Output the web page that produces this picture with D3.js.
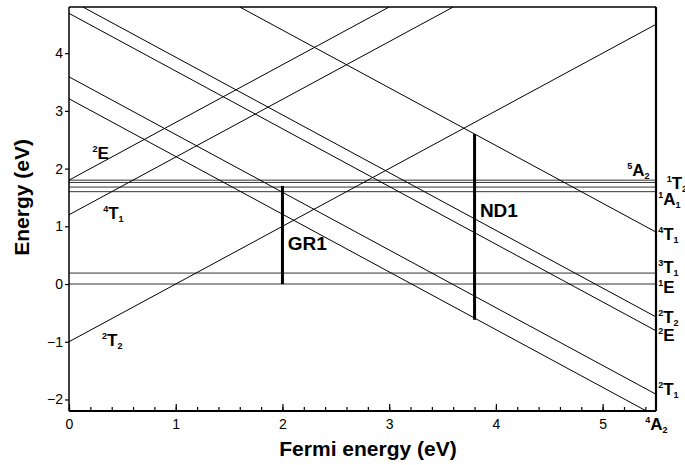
<!DOCTYPE html>
<html>
<head>
<meta charset="utf-8">
<script src="https://cdn.jsdelivr.net/npm/d3@7"></script>
<style>
  body{margin:0;background:#fff;}
  text{font-family:"Liberation Sans",Arial,Helvetica,sans-serif;}
</style>
</head>
<body>
<div class="chart"></div>
<script>
// axis ranges and ticks
var xDomain=[0,5.5];
var yDomain=[-2.2,4.8];
var xTicks=[0,1,2,3,4,5];
var xMinorStep=0.2;
var yTicks=[-2,-1,0,1,2,3,4];

// flat levels (eV)
var levels=[1.80,1.76,1.68,1.60,0.19,0.0];

// sloped lines: [x0,y0,x1,y1]
var risingLines=[
  [0,-1.0,5.5,4.5],
  [0,1.2,3.6,4.8],
  [0,1.8,3.0,4.8]
];
var fallingLines=[
  [0.13,4.8,5.5,-0.57],
  [0,4.69,5.5,-0.81],
  [0,3.59,5.5,-1.91],
  [0,3.21,5.41,-2.2],
  [1.6,4.8,5.5,0.90]
];

// optical transitions
var transitions=[
  {name:"GR1",x:2.0,from:0.0,to:1.70,lx:2.05,ly:0.59},
  {name:"ND1",x:3.8,from:-0.62,to:2.60,lx:3.85,ly:1.16}
];

// state labels: superscript, letter, subscript, start x, baseline y
var stateLabels=[
  {sup:"2",main:"E",sub:"",x:0.22,y:2.17},
  {sup:"4",main:"T",sub:"1",x:0.32,y:1.13},
  {sup:"2",main:"T",sub:"2",x:0.31,y:-1.08},
  {sup:"5",main:"A",sub:"2",x:5.23,y:1.87},
  {sup:"1",main:"T",sub:"2",x:5.60,y:1.65},
  {sup:"1",main:"A",sub:"1",x:5.52,y:1.37},
  {sup:"4",main:"T",sub:"1",x:5.52,y:0.76},
  {sup:"3",main:"T",sub:"1",x:5.52,y:0.19},
  {sup:"1",main:"E",sub:"",x:5.52,y:-0.16},
  {sup:"2",main:"T",sub:"2",x:5.52,y:-0.68},
  {sup:"2",main:"E",sub:"",x:5.52,y:-0.99},
  {sup:"2",main:"T",sub:"1",x:5.52,y:-1.92},
  {sup:"4",main:"A",sub:"2",x:5.40,y:-2.53}
];

var W=685, H=465;
var margin={top:7,left:69,right:29,bottom:54};
var width=W-margin.left-margin.right;
var height=H-margin.top-margin.bottom;

var xScale=d3.scaleLinear().domain(xDomain).range([0,width]);
var yScale=d3.scaleLinear().domain(yDomain).range([height,0]);

var svg=d3.select(".chart").append("svg")
  .attr("width",W).attr("height",H);

var g=svg.append("g")
  .attr("transform","translate("+margin.left+","+margin.top+")");

g.append("clipPath").attr("id","plotclip")
  .append("rect").attr("width",width).attr("height",height);

var plot=g.append("g").attr("clip-path","url(#plotclip)");

// flat levels
plot.selectAll("line.level")
  .data(levels)
  .enter().append("line")
  .attr("class","level")
  .attr("x1",xScale(xDomain[0]))
  .attr("x2",xScale(xDomain[1]))
  .attr("y1",function(d){return yScale(d)})
  .attr("y2",function(d){return yScale(d)})
  .attr("stroke","#333")
  .attr("stroke-width",1);

// sloped lines
plot.selectAll("line.sloped")
  .data(risingLines.concat(fallingLines))
  .enter().append("line")
  .attr("class","sloped")
  .attr("x1",function(d){return xScale(d[0])})
  .attr("y1",function(d){return yScale(d[1])})
  .attr("x2",function(d){return xScale(d[2])})
  .attr("y2",function(d){return yScale(d[3])})
  .attr("stroke","#000")
  .attr("stroke-width",1);

// transitions
g.selectAll("line.trans")
  .data(transitions)
  .enter().append("line")
  .attr("class","trans")
  .attr("x1",function(d){return xScale(d.x)})
  .attr("x2",function(d){return xScale(d.x)})
  .attr("y1",function(d){return yScale(d.from)})
  .attr("y2",function(d){return yScale(d.to)})
  .attr("stroke","#000")
  .attr("stroke-width",3);

g.selectAll("text.trans")
  .data(transitions)
  .enter().append("text")
  .attr("class","trans")
  .attr("x",function(d){return xScale(d.lx)})
  .attr("y",function(d){return yScale(d.ly)})
  .attr("font-size",19)
  .attr("font-weight","bold")
  .text(function(d){return d.name});

// state labels
var lab=g.selectAll("text.state")
  .data(stateLabels)
  .enter().append("text")
  .attr("class","state")
  .attr("x",function(d){return xScale(d.x)})
  .attr("y",function(d){return yScale(d.y)})
  .attr("font-weight","bold");
lab.append("tspan").attr("font-size",9).attr("dy",-7).text(function(d){return d.sup});
lab.append("tspan").attr("font-size",17).attr("dy",7).text(function(d){return d.main});
lab.append("tspan").attr("font-size",9).attr("dy",3).text(function(d){return d.sub});

// axes
var xMinor=d3.range(xDomain[0],xDomain[1]+0.001,xMinorStep);
g.append("g")
  .attr("class","x minor")
  .attr("transform","translate(0,"+height+")")
  .call(d3.axisTop(xScale).tickValues(xMinor).tickSize(4).tickFormat(""))
  .call(function(s){s.select(".domain").remove()});

var xAxis=g.append("g")
  .attr("class","x axis")
  .attr("transform","translate(0,"+height+")")
  .call(d3.axisBottom(xScale).tickValues(xTicks).tickSize(0).tickPadding(8).tickFormat(d3.format("d")));
xAxis.select(".domain").remove();
xAxis.selectAll("text").attr("font-size",14).attr("fill","#000");

g.append("g")
  .attr("class","x major")
  .attr("transform","translate(0,"+height+")")
  .call(d3.axisTop(xScale).tickValues(xTicks).tickSize(7).tickFormat(""))
  .call(function(s){s.select(".domain").remove()});

var yAxis=g.append("g")
  .attr("class","y axis")
  .call(d3.axisLeft(yScale).tickValues(yTicks).tickSize(4).tickPadding(2).tickFormat(d3.format("d")));
yAxis.select(".domain").remove();
yAxis.selectAll("text").attr("font-size",14).attr("fill","#000");

g.selectAll(".tick line").attr("stroke","#000").attr("stroke-width",1.2);

// frame
g.append("line").attr("x1",0).attr("x2",0).attr("y1",0).attr("y2",height)
  .attr("stroke","#000").attr("stroke-width",1.5);
g.append("line").attr("x1",0).attr("x2",width).attr("y1",height).attr("y2",height)
  .attr("stroke","#000").attr("stroke-width",2.2);
g.append("line").attr("x1",0).attr("x2",width).attr("y1",0).attr("y2",0)
  .attr("stroke","#000").attr("stroke-width",1.5);
g.append("line").attr("x1",width).attr("x2",width).attr("y1",0).attr("y2",height)
  .attr("stroke","#000").attr("stroke-width",2.2);

// axis titles
svg.append("text")
  .attr("x",368)
  .attr("y",456)
  .attr("text-anchor","middle")
  .attr("font-size",21)
  .attr("font-weight","bold")
  .text("Fermi energy (eV)");

svg.append("text")
  .attr("transform","translate(29,"+(margin.top+yScale(1.5))+") rotate(-90)")
  .attr("text-anchor","middle")
  .attr("font-size",21)
  .attr("font-weight","bold")
  .text("Energy (eV)");
</script>
</body>
</html>
